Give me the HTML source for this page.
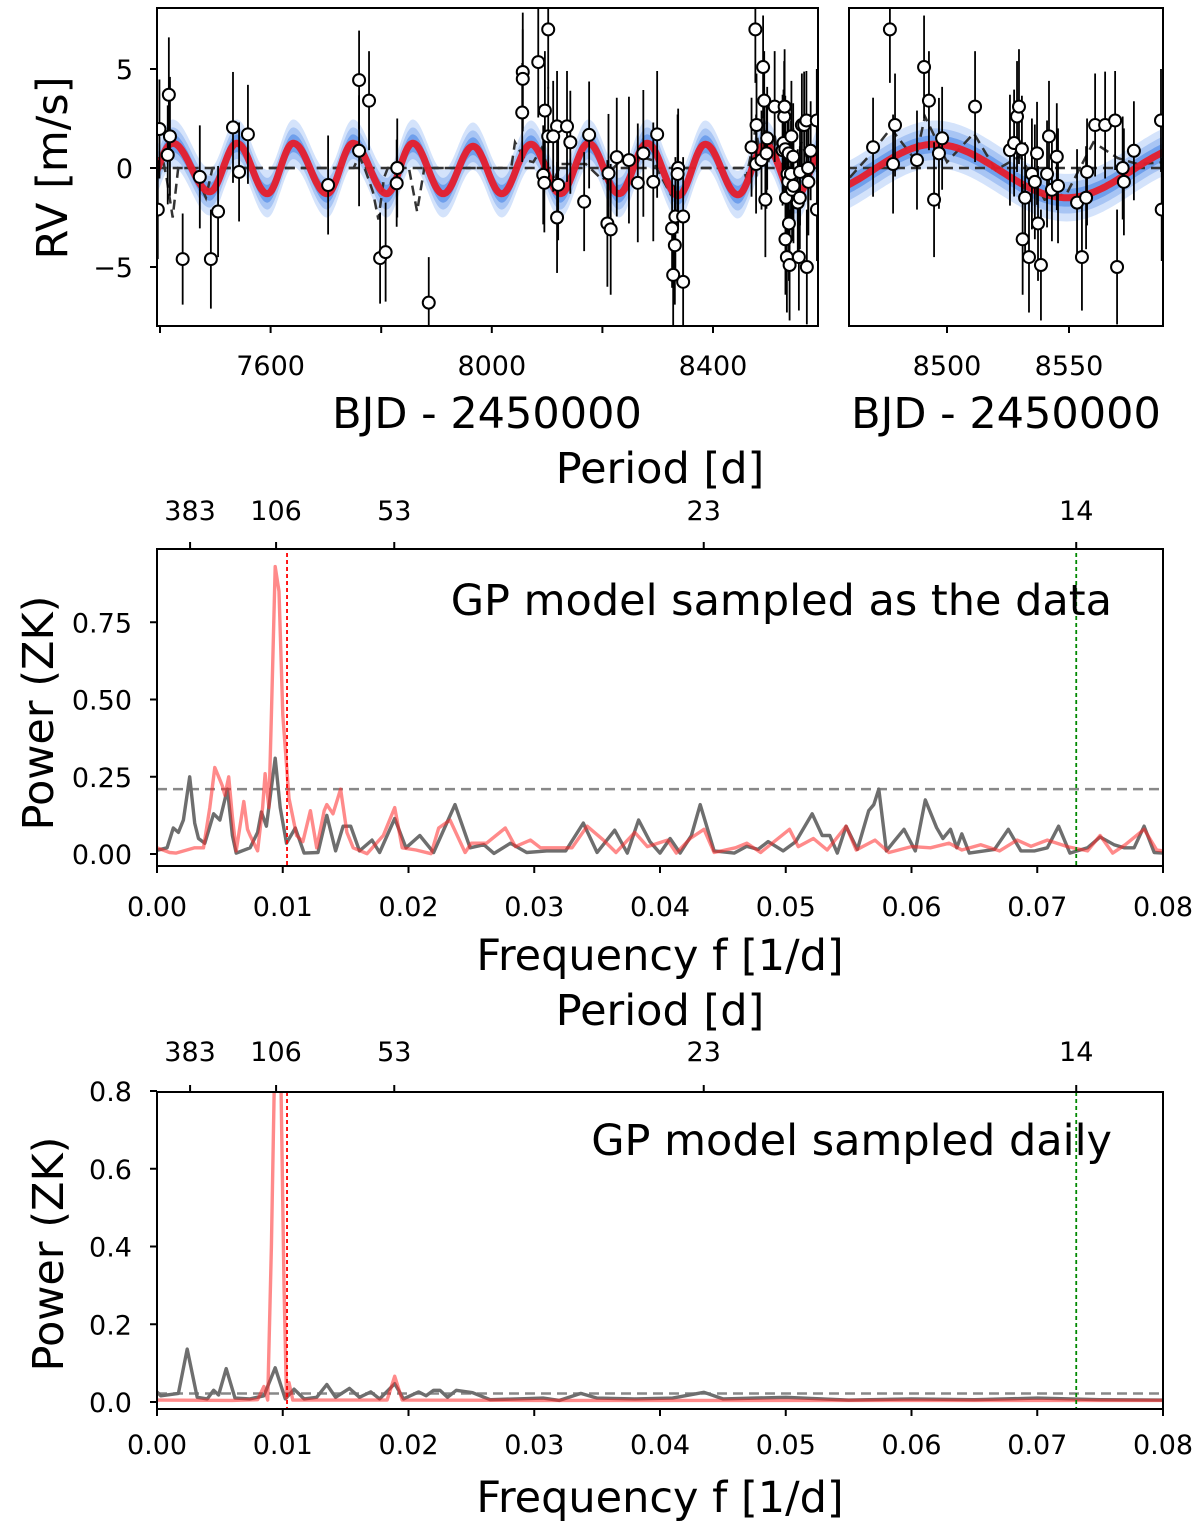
<!DOCTYPE html>
<html><head><meta charset="utf-8"><style>
html,body{margin:0;padding:0;background:#fff;}
svg{display:block;font-family:"DejaVu Sans","Liberation Sans",sans-serif;}
</style></head><body>
<svg id="fig" width="1200" height="1527" viewBox="0 0 1200 1527" xmlns="http://www.w3.org/2000/svg">
<defs>
<clipPath id="cl1"><rect x="157" y="8" width="661" height="318"/></clipPath>
<clipPath id="cl2"><rect x="849" y="8" width="314" height="318"/></clipPath>
<clipPath id="cl3"><rect x="157" y="549" width="1006" height="317"/></clipPath>
<clipPath id="cl4"><rect x="157" y="1092" width="1006" height="317"/></clipPath>
</defs>
<g id="g1" clip-path="url(#cl1)"></g>
<g id="g2" clip-path="url(#cl2)"></g>
<g id="g3" clip-path="url(#cl3)"></g>
<g id="g4" clip-path="url(#cl4)"></g>
<g id="axes"></g>
<text x="67" y="168" font-size="43" text-anchor="middle" transform="rotate(-90 67 168)">RV [m/s]</text>
<text x="487" y="428" font-size="43" text-anchor="middle">BJD - 2450000</text>
<text x="1006" y="428" font-size="43" text-anchor="middle">BJD - 2450000</text>
<text x="660" y="483" font-size="43" text-anchor="middle">Period [d]</text>
<text x="1112" y="615" font-size="43" text-anchor="end">GP model sampled as the data</text>
<text x="53" y="713" font-size="43" text-anchor="middle" transform="rotate(-90 53 713)">Power (ZK)</text>
<text x="660" y="970" font-size="43" text-anchor="middle">Frequency f [1/d]</text>
<text x="660" y="1025" font-size="43" text-anchor="middle">Period [d]</text>
<text x="1112" y="1155" font-size="43" text-anchor="end">GP model sampled daily</text>
<text x="63" y="1254" font-size="43" text-anchor="middle" transform="rotate(-90 63 1254)">Power (ZK)</text>
<text x="660" y="1512" font-size="43" text-anchor="middle">Frequency f [1/d]</text>
</svg>
<script>
// ---- RV data ----
const rvT=[7399,7396,7416,7418,7414,7441,7472,7492,7505,7532,7543,7559,7704,7760,7778,7760,7798,7808,7828,7829,7886,8056,8056,8055,8084,8102,8093,8095,8096,8102,8118,8111,8120,8118,8136,8142,8167,8176,8209,8215,8226,8211,8248,8264,8274,8292,8299,8337,8336,8332,8326,8331,8328,8346,8346,
8476.6,8469.7,8478.7,8477.9,8487.7,8490.6,8492.6,8498,8496.7,8494.7,8511.5,8525.8,8527.5,8528.7,8529.5,8530.7,8534.8,8536,8536.9,8532,8531,8533.6,8537.3,8538.5,8541,8541.8,8543,8545,8545.5,8553.3,8557,8557.4,8555.3,8560.7,8564.8,8568.9,8569.7,8572,8572.5,8576.6,8587.7,8588];
const rvV=[1.97,-2.1,3.7,1.6,0.66,-4.6,-0.45,-4.6,-2.2,2.05,-0.2,1.7,-0.86,4.44,3.4,0.87,-4.55,-4.25,-0.77,0,-6.8,4.85,4.5,2.8,5.35,7.0,-0.35,-0.75,2.9,1.6,2.1,1.6,-0.85,-2.5,2.1,1.3,-1.7,1.67,-2.8,-3.1,0.55,-0.27,0.4,-0.75,0.74,-0.7,1.7,0,-0.3,-2.45,-3.05,-3.9,-5.4,-5.75,-2.45,
7.0,1.05,2.17,0.2,0.4,5.1,3.4,1.5,0.74,-1.6,3.1,0.9,1.26,2.6,3.1,0.95,-0.3,-0.7,0.74,-1.5,-3.6,-4.5,-2.8,-4.9,-0.3,1.6,-1.1,0.57,-0.9,-1.75,-1.5,-0.2,-4.5,2.17,2.17,2.4,-5.0,0,-0.7,0.87,2.4,-2.1];
const rvE=[2.5,2.5,2.9,3.0,2.5,2.3,2.6,2.5,2.3,2.8,2.5,2.5,2.5,2.5,2.5,2.8,2.3,2.5,2.2,2.5,2.3,3,2.5,2.5,2.8,3.0,2.5,2.5,3,2.5,2.8,2.8,2.8,2.8,2.8,2.6,2.5,2.7,3.2,3.3,3,3,3.2,3,3.2,3,3.2,3,3,3,3,3,3,3,3,
2.7,2.5,2.6,2.5,2.5,2.6,2.5,2.6,2.8,2.9,2.8,2.8,2.7,2.8,2.9,2.7,2.8,2.9,2.6,2.8,2.8,2.8,2.9,2.8,2.7,2.8,2.6,2.7,2.9,2.7,2.6,2.7,2.7,2.6,2.7,2.5,2.9,2.6,2.7,2.5,2.6,2.6];
// GP mean model extrema (time, value)
const modT=[7370,7423,7490,7539,7594,7641,7702,7749,7810,7857,7912,7966,8018,8071,8124,8175,8230,8281,8337,8386,8445,8495,8549,8602];
const modV=[-1.2,1.25,-1.2,1.25,-1.3,1.25,-1.3,1.25,-1.3,1.25,-1.3,1.1,-1.3,1.2,-1.3,1.25,-1.3,1.25,-1.4,1.2,-1.35,1.2,-1.5,1.2];
// dashed model nodes
const dashT=[7394,7398,7404,7412,7423,7433,7460,7483,7495,7750,7760,7770,7785,7795,7805,7812,7850,7865,7878,8035,8042,8060,8075,8090,8110,8125,8170,8200,8230,8265,8290,8323,8345,8455,8460,8468,8477,8487,8491,8500,8511,8520,8530,8540,8549,8560,8570,8578,8590];
const dashV=[-0.6,0.5,0.6,-0.5,-2.5,0,0,-1.5,0,0,0.6,0,-1.2,-2.6,-0.5,0,0,-2.2,0,0,1.3,0.4,0.3,1.0,-0.8,0.2,0.2,-0.6,0.3,0.6,0.4,-1.3,0,0,-0.5,0.6,2.0,0.4,2.6,0.3,1.75,-0.1,0.6,-1.6,-1.3,1.3,0.5,0.2,0.3];
// ---- periodogram (data sampling) ----
const mgF=[0,0.0008,0.0013,0.0017,0.0021,0.0026,0.0030,0.0033,0.0038,0.0045,0.0050,0.0056,0.0060,0.0063,0.0074,0.0080,0.0083,0.0087,0.0094,0.0098,0.0103,0.0110,0.0117,0.0128,0.0135,0.0142,0.0148,0.0154,0.0161,0.0171,0.0177,0.0189,0.0198,0.0209,0.0220,0.0237,0.0249,0.0260,0.0268,0.0281,0.0294,0.0310,0.0325,0.0339,0.0350,0.0364,0.0374,0.0383,0.0392,0.0400,0.0408,0.0416,0.0425,0.0432,0.0443,0.0459,0.0469,0.0478,0.0486,0.0498,0.0508,0.0521,0.0529,0.0535,0.0541,0.0548,0.0557,0.0566,0.0570,0.0574,0.0580,0.0586,0.0594,0.0603,0.0611,0.0620,0.0625,0.0631,0.0636,0.0640,0.0646,0.0666,0.0677,0.0687,0.0698,0.0708,0.0717,0.0726,0.0740,0.0750,0.0761,0.0769,0.0777,0.0785,0.0793,0.0800];
const mgP=[0.012,0.02,0.084,0.07,0.11,0.25,0.1,0.05,0.035,0.13,0.11,0.21,0.06,0.003,0.02,0.07,0.136,0.09,0.31,0.15,0.035,0.084,0.003,0.005,0.125,0.01,0.09,0.09,0.01,0.045,0.005,0.115,0.02,0.06,0.005,0.16,0.02,0.03,0.002,0.035,0.005,0.01,0.01,0.1,0.005,0.077,0.003,0.11,0.04,0.003,0.05,0.003,0.06,0.16,0.01,0.003,0.025,0.015,0.04,0.01,0.04,0.13,0.06,0.06,0.003,0.09,0.015,0.14,0.16,0.21,0.01,0.04,0.08,0.01,0.175,0.085,0.05,0.08,0.02,0.065,0.003,0.015,0.08,0.01,0.01,0.02,0.09,0.003,0.02,0.055,0.03,0.02,0.02,0.09,0.005,0.003];
const mrF=[0,0.0010,0.0015,0.0030,0.0037,0.0042,0.0046,0.0050,0.0052,0.0054,0.0057,0.0060,0.0063,0.0069,0.0072,0.0074,0.0080,0.0084,0.0086,0.0089,0.0091,0.0094,0.0097,0.0100,0.0105,0.0111,0.0116,0.0122,0.0127,0.0133,0.0135,0.0140,0.0146,0.0151,0.0156,0.0167,0.0180,0.0189,0.0195,0.0206,0.0218,0.0224,0.0233,0.0245,0.0250,0.0262,0.0277,0.0285,0.0297,0.0305,0.0320,0.0330,0.0342,0.0355,0.0365,0.0380,0.0390,0.0406,0.0413,0.0424,0.0435,0.0443,0.0460,0.0469,0.0480,0.0503,0.0510,0.0522,0.0533,0.0548,0.0556,0.0571,0.0582,0.0600,0.0615,0.0630,0.0640,0.0655,0.0670,0.0684,0.0695,0.0708,0.0724,0.0740,0.0750,0.0760,0.0770,0.0785,0.0795,0.0800];
const mrP=[0.02,0.005,0.003,0.02,0.02,0.15,0.28,0.24,0.22,0.19,0.25,0.12,0.01,0.17,0.08,0.06,0.01,0.15,0.26,0.15,0.45,0.93,0.85,0.45,0.18,0.06,0.04,0.14,0.02,0.14,0.16,0.13,0.21,0.07,0.02,0.001,0.06,0.15,0.02,0.013,0.001,0.084,0.11,0.005,0.035,0.035,0.084,0.024,0.045,0.02,0.02,0.02,0.09,0.045,0.005,0.07,0.024,0.045,0.003,0.05,0.08,0.005,0.02,0.035,0.005,0.08,0.024,0.05,0.013,0.09,0.013,0.045,0.005,0.024,0.02,0.035,0.013,0.03,0.01,0.045,0.025,0.045,0.024,0.01,0.06,0.003,0.03,0.08,0.013,0.01];
const fapMid=0.21;
// ---- periodogram (daily sampling) ----
const bgF=[0,0.0003,0.0017,0.0024,0.0032,0.0040,0.0045,0.0049,0.0055,0.0062,0.0074,0.0085,0.0094,0.0102,0.0109,0.0117,0.0127,0.0135,0.0142,0.0153,0.0161,0.0170,0.0177,0.0189,0.0196,0.0208,0.0214,0.0220,0.0225,0.0231,0.0238,0.0251,0.0265,0.0286,0.0307,0.0320,0.0337,0.0350,0.0380,0.0410,0.0435,0.0450,0.0500,0.0550,0.0600,0.0650,0.0700,0.0750,0.0800];
const bgP=[0.026,0.016,0.022,0.136,0.012,0.008,0.03,0.018,0.086,0.01,0.008,0.016,0.088,0.008,0.033,0.008,0.012,0.045,0.012,0.035,0.012,0.026,0.008,0.047,0.008,0.026,0.016,0.03,0.03,0.012,0.03,0.024,0.006,0.008,0.01,0.004,0.022,0.01,0.008,0.01,0.025,0.008,0.012,0.005,0.008,0.006,0.01,0.006,0.005];
const brF=[0,0.006,0.0080,0.0085,0.0088,0.0091,0.0094,0.0098,0.0101,0.0103,0.0105,0.0108,0.0150,0.0183,0.0189,0.0195,0.030,0.080];
const brP=[0.005,0.004,0.006,0.04,0.005,0.4,0.95,0.95,0.3,0.01,0.05,0.005,0.005,0.005,0.066,0.005,0.004,0.004];
const fapDaily=0.022;
// ---- axis labels ----
const leftTicks=[7600,8000,8400];
const rightTicks=[8500,8550];
const rvTicks=[5,0,-5];
const freqTicks=[0,0.01,0.02,0.03,0.04,0.05,0.06,0.07,0.08];
const periodVals=[380.2,105.6,53.0,23.0,13.68];
const periodLabels=["383","106","53","23","14"];
const midYTicks=[0,0.25,0.5,0.75];
const botYTicks=[0,0.2,0.4,0.6,0.8];
const fRed=0.01034, fGreen=0.0731;

const NS='http://www.w3.org/2000/svg';
function E(tag,parent){const e=document.createElementNS(NS,tag);parent.appendChild(e);return e;}
function A(e,o){for(const k in o)e.setAttribute(k,o[k]);return e;}
const g1=document.getElementById('g1'),g2=document.getElementById('g2'),g3=document.getElementById('g3'),g4=document.getElementById('g4'),ax=document.getElementById('axes');

const xL=t=>160+(t-7400)*0.553;
const xR=t=>947+(t-8500)*2.44;
const yRV=v=>168-v*19.8;
const xF=f=>157+f/0.08*1006;
const yM=p=>854-p*309;
const yB=p=>1402-p*388.75;

function modelAt(t){
  for(let i=0;i<modT.length-1;i++){
    if(t>=modT[i]&&t<=modT[i+1]){const u=(t-modT[i])/(modT[i+1]-modT[i]);return modV[i]+(modV[i+1]-modV[i])*(1-Math.cos(Math.PI*u))/2;}
  }
  return t<modT[0]?modV[0]:modV[modV.length-1];
}
function rvPanel(g,xf,t0,t1,step,nm){
  const widths=[1.2,0.8,0.45],cols=['#d4e3fb','#a8c5f4','#6f9fec'];
  widths.forEach((w,k)=>{
    let up=[],dn=[];
    for(let t=t0;t<=t1;t+=step){const m=modelAt(t);up.push(xf(t).toFixed(1)+','+yRV(m+w).toFixed(1));dn.unshift(xf(t).toFixed(1)+','+yRV(m-w).toFixed(1));}
    const p=E('polygon',g);A(p,{points:up.concat(dn).join(' '),fill:cols[k],stroke:'none'});
    
    
  });
  let pts=[];
  for(let t=t0;t<=t1;t+=step)pts.push(xf(t).toFixed(1)+','+yRV(modelAt(t)).toFixed(1));
  const zl=E('line',g);A(zl,{x1:xf(t0),x2:xf(t1),y1:yRV(0),y2:yRV(0),stroke:'#333','stroke-width':2.5,'stroke-dasharray':'10,6'});
  
  
  const dp=E('polyline',g);A(dp,{points:dashT.map((t,i)=>xf(t).toFixed(1)+','+yRV(dashV[i]).toFixed(1)).join(' '),fill:'none',stroke:'#333','stroke-width':2.5,'stroke-dasharray':'10,6'});
  
  
  const ml=E('polyline',g);A(ml,{points:pts.join(' '),fill:'none',stroke:'#e51d2c','stroke-width':7,'stroke-linejoin':'round',opacity:0.95});
  
  
  rvT.forEach((t,i)=>{
    const eb=E('line',g);A(eb,{x1:xf(t),x2:xf(t),y1:yRV(rvV[i]+rvE[i]),y2:yRV(rvV[i]-rvE[i]),stroke:'#000','stroke-width':1.8});
    
    
  });
  rvT.forEach((t,i)=>{
    const c=E('circle',g);A(c,{cx:xf(t),cy:yRV(rvV[i]),r:6,fill:'#fff',stroke:'#000','stroke-width':2});
    
    
  });
}
rvPanel(g1,xL,7394,8590,2,'left');
rvPanel(g2,xR,8459,8589,1,'right');

function pgPanel(g,yf,gF,gP,rF,rP,fap,nm){
  const th=E('line',g);A(th,{x1:157,x2:1163,y1:yf(fap),y2:yf(fap),stroke:'#888','stroke-width':2.5,'stroke-dasharray':'10,6'});
  
  
  const gl=E('polyline',g);A(gl,{points:gF.map((f,i)=>xF(f).toFixed(1)+','+yf(gP[i]).toFixed(1)).join(' '),fill:'none',stroke:'#6e6e6e','stroke-width':3.4,'stroke-linejoin':'round'});
  
  
  const rl=E('polyline',g);A(rl,{points:rF.map((f,i)=>xF(f).toFixed(1)+','+yf(rP[i]).toFixed(1)).join(' '),fill:'none',stroke:'#ff2a2a','stroke-width':3.4,'stroke-linejoin':'round',opacity:0.55});
  
  
  const rv=E('line',g);A(rv,{x1:xF(fRed),x2:xF(fRed),y1:0,y2:1527,stroke:'#ff0000','stroke-width':1.8,'stroke-dasharray':'4,3'});
  
  
  const gv=E('line',g);A(gv,{x1:xF(fGreen),x2:xF(fGreen),y1:0,y2:1527,stroke:'#008800','stroke-width':1.8,'stroke-dasharray':'4,3'});
  
  
}
pgPanel(g3,yM,mgF,mgP,mrF,mrP,fapMid,'mid');
pgPanel(g4,yB,bgF,bgP,brF,brP,fapDaily,'bottom');

function frame(x,y,w,h,nm){const r=E('rect',ax);A(r,{x:x,y:y,width:w,height:h,fill:'none',stroke:'#000','stroke-width':2});
  
  }
frame(157,8,661,318,'left-panel-frame');
frame(849,8,314,318,'right-panel-frame');
frame(157,549,1006,317,'mid-panel-frame');
frame(157,1092,1006,317,'bottom-panel-frame');
function tick(x1,y1,x2,y2){const l=E('line',ax);A(l,{x1:x1,y1:y1,x2:x2,y2:y2,stroke:'#000','stroke-width':2});
  
  }
function label(x,y,s,anchor,nm){const t=E('text',ax);A(t,{x:x,y:y,'font-size':27,'text-anchor':anchor});t.textContent=s;
  
  }
[7400,7600,7800,8000,8200,8400].forEach(t=>tick(xL(t),326,xL(t),333));
leftTicks.forEach(t=>label(xL(t),375,String(t),'middle','left-x-tick-label'));
rightTicks.forEach(t=>{tick(xR(t),326,xR(t),333);label(xR(t),375,String(t),'middle','right-x-tick-label');});
rvTicks.forEach(v=>{tick(150,yRV(v),157,yRV(v));label(133,yRV(v)+10,v<0?'\u2212'+Math.abs(v):String(v),'end','rv-y-tick-label');});
[[yM,866,549,520,midYTicks,2,'mid',916],[yB,1409,1092,1061,botYTicks,1,'bottom',1454]].forEach(c=>{
  const [yf,bot,top,pl,yt,dec,nm,fl]=c;
  freqTicks.forEach(f=>{tick(xF(f),bot,xF(f),bot+7);label(xF(f),fl,f.toFixed(2),'middle',nm+'-freq-tick-label');});
  periodVals.forEach((p,i)=>{const x=xF(1/p);tick(x,top,x,top-7);label(x,pl,periodLabels[i],'middle',nm+'-period-tick-label');});
  yt.forEach(v=>{tick(150,yf(v),157,yf(v));label(132,yf(v)+10,v.toFixed(dec),'end',nm+'-power-tick-label');});
});
</script>
</body></html>
